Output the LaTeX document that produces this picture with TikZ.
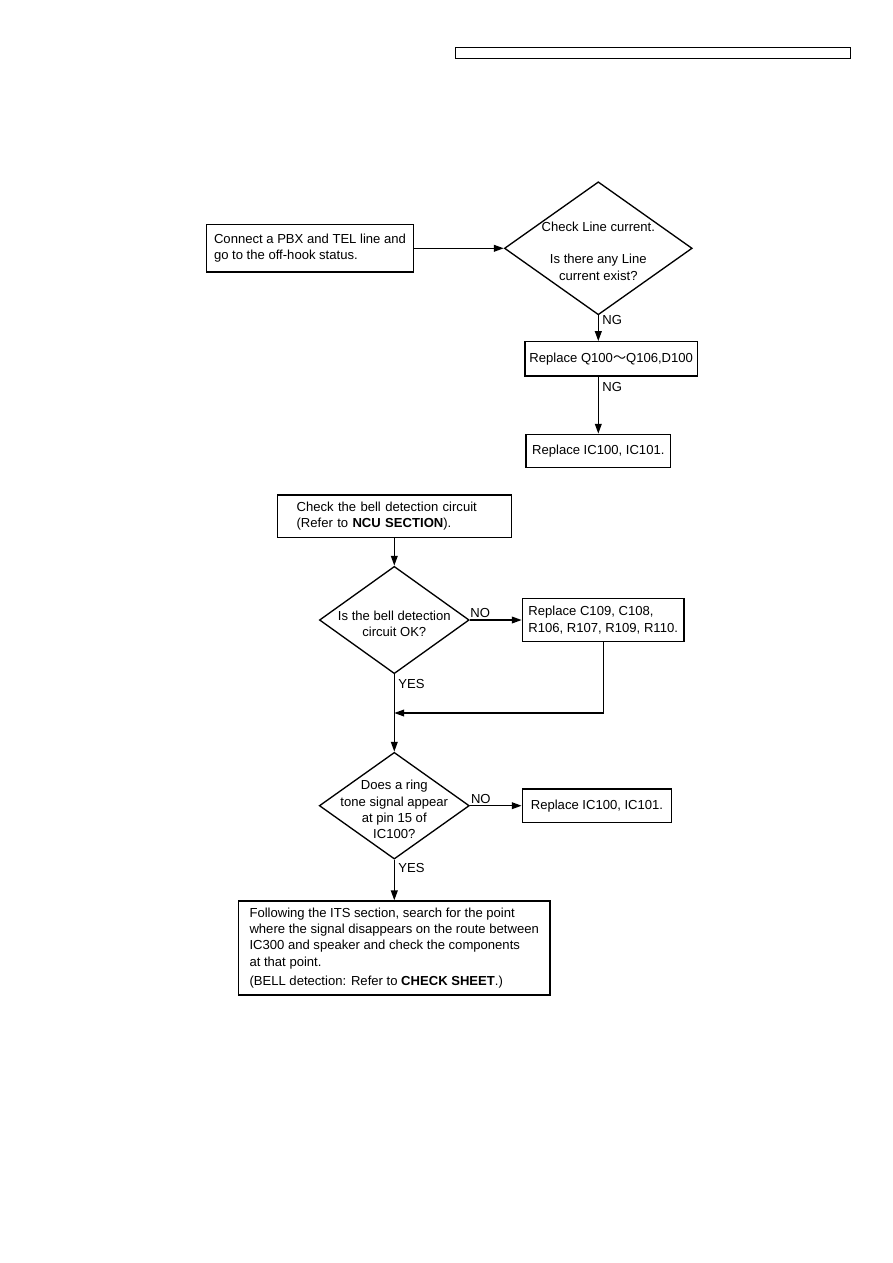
\documentclass[tikz,border=0pt]{standalone}
\usepackage{fontspec}
\setmainfont{Liberation Sans}
\newfontfamily\cjkfont{Noto Sans CJK JP}
\usepackage{tikz}
\usetikzlibrary{shapes.geometric, arrows.meta, calc}
\tikzset{
  box/.style={rectangle, draw=black, line width=0.95pt, inner sep=0pt,
    align=left, font=\fontsize{9.3}{11.6}\selectfont},
  hdrbox/.style={rectangle, draw=black, line width=0.95pt, inner sep=0pt,
    minimum width=9.875cm, minimum height=0.275cm},
  decision/.style={diamond, draw=black, line width=0.95pt, inner sep=0pt},
  dtext/.style={align=center, inner sep=0pt, font=\fontsize{9.3}{11.6}\selectfont},
  arrow/.style={-{Triangle[length=7pt,width=4.8pt]}, line width=0.95pt, color=black},
  tag/.style={font=\fontsize{9.3}{11}\selectfont, inner sep=2.5pt}
}
\begin{document}
\begin{tikzpicture}[x=0.025cm, y=-0.025cm]
  \useasboundingbox (0,0) rectangle (893,1263);
  \node[hdrbox] (hdr) at (653.2,52.8) {};

  \node[box, minimum width=5.165cm, minimum height=1.185cm] (conn) at (310,248.3)
    {Connect a PBX and TEL line and\\go to the off-hook status.};
  \node[decision, minimum width=4.693cm, minimum height=3.325cm] (chk) at (598.3,248.3) {};
  \node[dtext, yshift=-2pt] (chktxt) at (chk)
    {Check Line current.\\[11.6pt]Is there any Line\\current exist?};
  \node[box, minimum width=4.308cm, minimum height=0.858cm] (repq) at (611.2,358.9)
    {Replace Q100{\cjkfont ～}Q106,D100};
  \node[box, minimum width=3.608cm, minimum height=0.835cm] (repic) at (598.3,451)
    {Replace IC100, IC101.};

  \draw[arrow] (conn.east) -- (chk.west);
  \draw[arrow] (chk.south) -- node[tag, right, pos=0.19] {NG} (chk.south |- repq.north);
  \draw[arrow] (repq.south -| repic.north) -- node[tag, right, pos=0.18] {NG} (repic.north);

  \node[box, text width=4.884cm, inner xsep=0.483cm, minimum height=1.058cm] (bell) at (394.3,516.2)
    {Check the bell detection circuit\\(Refer to \textbf{NCU SECTION}).};
  \node[decision, minimum width=3.743cm, minimum height=2.683cm] (isok) at (394.3,620) {};
  \node[dtext, yshift=-2.5pt] (isoktxt) at (isok) {Is the bell detection\\circuit OK?};
  \node[box, minimum width=4.043cm, minimum height=1.06cm] (repc) at (603.2,620)
    {Replace C109, C108,\\R106, R107, R109, R110.};
  \node[decision, minimum width=3.75cm, minimum height=2.668cm] (ring) at (394.3,805.7) {};
  \node[dtext, yshift=-2.8pt] (ringtxt) at (ring)
    {Does a ring\\tone signal appear\\at pin 15 of\\IC100?};
  \node[box, minimum width=3.735cm, minimum height=0.843cm] (repic2) at (597,805.7)
    {Replace IC100, IC101.};
  \node[box, minimum width=7.793cm, minimum height=2.35cm] (its) at (394.2,948)
    {Following the ITS section, search for the point\\where the signal disappears on the route between\\IC300 and speaker and check the components\\at that point.\\[2.4pt](BELL detection: Refer to \textbf{CHECK SHEET}.)};

  \coordinate (join) at ($(isok.south)!0.5!(ring.north)$);
  \draw[arrow] (bell.south) -- (isok.north);
  \draw[arrow] (isok.east) -- node[tag, above, pos=0.2, inner sep=1pt] {NO} (repc.west);
  \draw[arrow] (isok.south) -- node[tag, right, pos=0.127] {YES} (ring.north);
  \draw[arrow] (repc.south) |- (join);
  \draw[arrow] (ring.east) -- node[tag, above, pos=0.21, inner sep=1pt] {NO} (repic2.west);
  \draw[arrow] (ring.south) -- node[tag, right, pos=0.2] {YES} (ring.south |- its.north);
\end{tikzpicture}
\end{document}
